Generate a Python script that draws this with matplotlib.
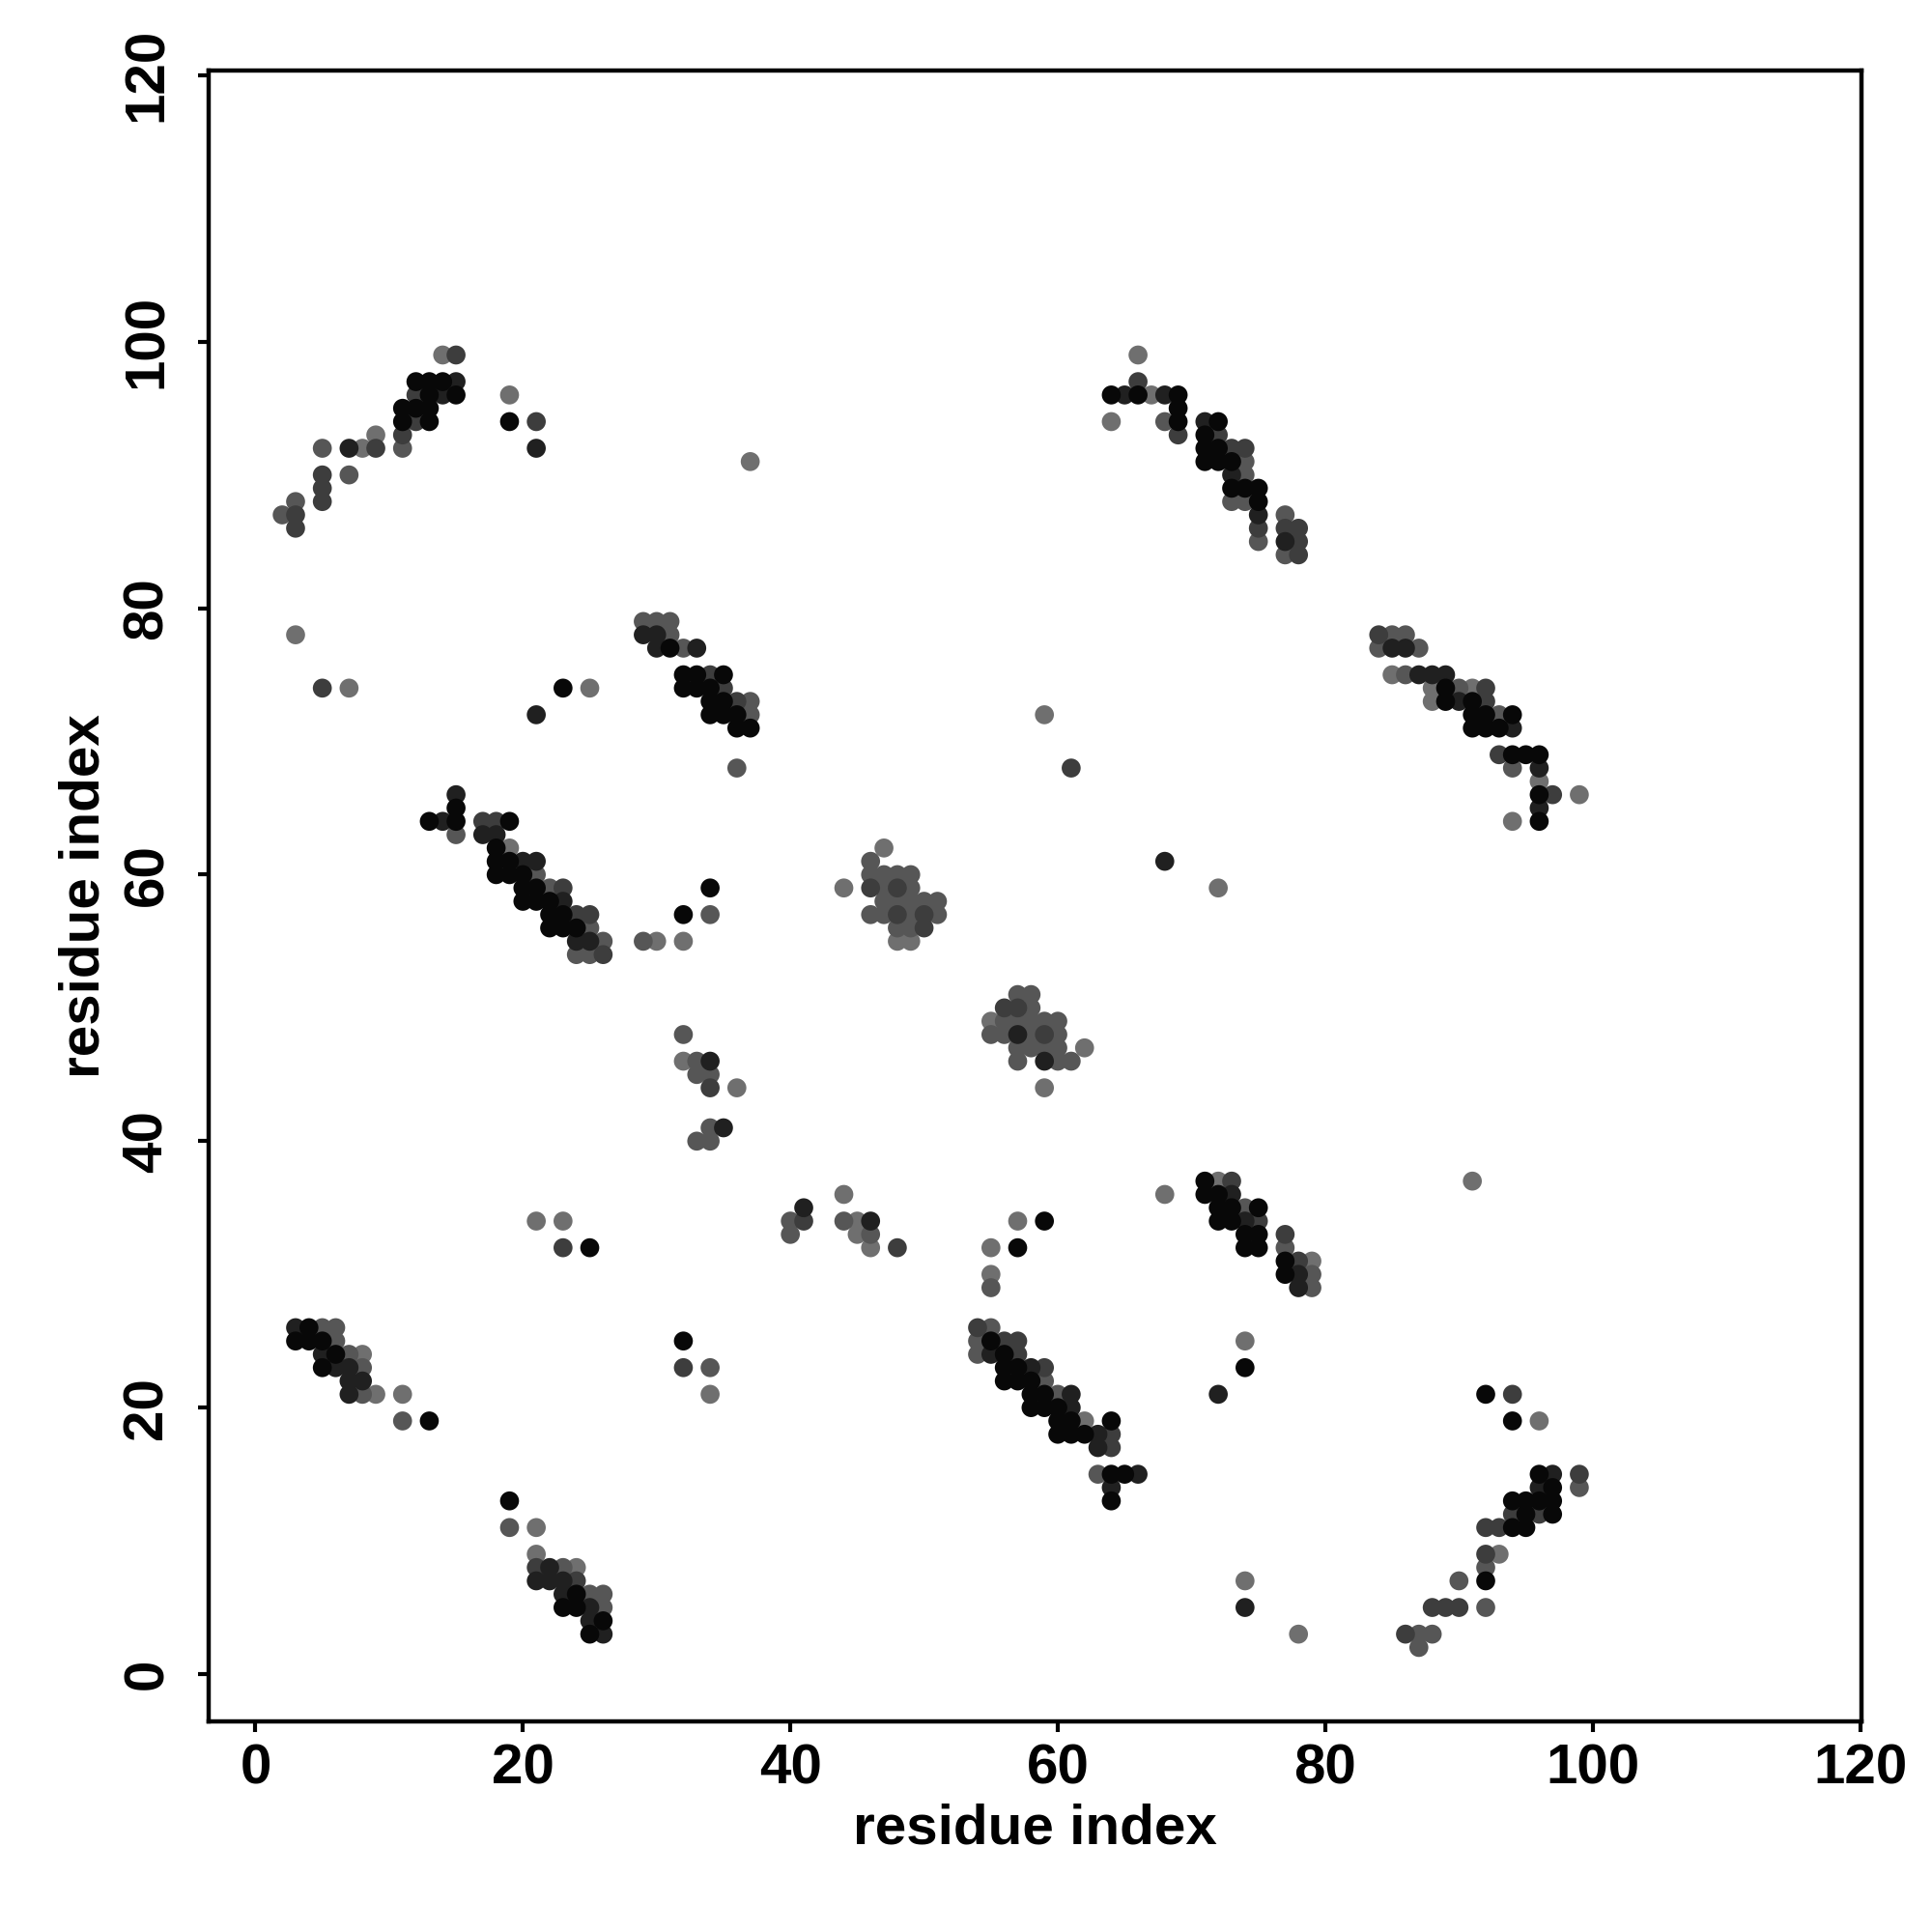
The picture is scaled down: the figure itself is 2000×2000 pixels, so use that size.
import matplotlib
matplotlib.use("Agg")
import matplotlib.pyplot as plt

plt.rcParams['font.family'] = ['Liberation Sans', 'DejaVu Sans']
plt.rcParams['font.weight'] = 'bold'

# contacts: (i, j, shade level 0=black .. 4=light grey)
contacts = [
    # top-left arc
    (14,99,4),(15,99,2),(12,97,0),(13,97,0),(14,97,0),(15,97,1),
    (12,96,2),(13,96,0),(14,96,1),(15,96,0),(11,95,0),(12,95,0),(13,95,0),
    (11,94,0),(12,94,2),(13,94,0),(11,93,2),(9,93,4),
    (5,92,3),(7,92,1),(8,92,4),(9,92,2),(11,92,3),(5,90,2),(7,90,3),(5,89,2),
    (5,88,2),(3,88,3),(2,87,3),(3,87,2),(3,86,2),
    (19,96,4),(19,94,0),(21,94,2),(21,92,1),(3,78,4),
    (5,74,2),(7,74,4),(23,74,0),(25,74,4),(21,72,1),(37,91,4),
    # 29-37 / 71-79
    (29,79,3),(30,79,3),(31,79,3),(29,78,1),(30,78,1),(31,78,3),
    (30,77,1),(31,77,0),(32,77,3),(33,77,1),
    (32,75,0),(33,75,0),(34,75,2),(35,75,0),(32,74,0),(33,74,0),(34,74,0),(35,74,2),
    (34,73,0),(35,73,0),(36,73,2),(37,73,3),(34,72,0),(35,72,0),(36,72,0),(37,72,3),
    (36,71,0),(37,71,0),(36,68,3),(59,72,4),(61,68,2),
    # top-right arc
    (66,99,4),(66,97,2),(64,96,0),(65,96,1),(66,96,0),(67,96,4),(68,96,1),(69,96,0),
    (64,94,4),(69,95,0),(68,94,3),(69,94,0),(71,94,1),(72,94,0),
    (69,93,2),(71,93,0),(72,93,2),(71,92,0),(72,92,0),(73,92,2),(74,92,2),
    (71,91,0),(72,91,0),(73,91,0),(74,91,3),(73,90,1),(74,90,3),
    (73,89,0),(74,89,0),(75,89,0),(73,88,3),(74,88,3),(75,88,0),
    (75,87,1),(75,86,2),(75,85,3),(77,87,3),(77,86,2),(78,86,2),(77,85,1),(78,85,2),
    (77,84,3),(78,84,2),
    # right arc 84-99 / 64-78
    (84,78,2),(85,78,3),(86,78,3),(84,77,3),(85,77,1),(86,77,1),(87,77,3),
    (85,75,4),(86,75,3),(87,75,1),(88,75,1),(89,75,1),
    (88,74,4),(89,74,0),(90,74,3),(91,74,4),(92,74,2),
    (88,73,4),(89,73,0),(90,73,1),(91,73,0),(92,73,2),
    (91,72,0),(92,72,0),(93,72,3),(94,72,0),(91,71,0),(92,71,0),(93,71,0),(94,71,1),
    (93,69,2),(94,69,0),(95,69,0),(96,69,0),(94,68,3),(96,68,1),
    (96,67,4),(96,66,0),(97,66,2),(99,66,4),(96,65,1),(94,64,4),(96,64,0),
    # middle-left arc 13-26 / 54-66
    (15,66,1),(15,65,0),(13,64,0),(14,64,1),(15,64,0),(17,64,2),(18,64,2),(19,64,0),
    (15,63,3),(17,63,1),(18,63,1),(18,62,0),(19,62,4),
    (18,61,0),(19,61,0),(20,61,1),(21,61,1),(18,60,0),(19,60,0),(20,60,0),(21,60,3),
    (20,59,0),(21,59,0),(22,59,3),(23,59,2),(20,58,0),(21,58,0),(22,58,0),(23,58,1),
    (22,57,0),(23,57,0),(24,57,2),(25,57,2),(22,56,0),(23,56,0),(24,56,0),(25,56,3),
    (24,55,1),(25,55,1),(26,55,3),(24,54,3),(25,54,3),(26,54,2),
    (29,55,3),(30,55,4),(32,55,4),(32,57,0),(34,57,3),(34,59,0),
    # central cluster 1
    (47,62,4),(46,61,3),(46,60,3),(47,60,3),(48,60,3),(49,60,3),
    (44,59,4),(46,59,2),(47,59,3),(48,59,2),(49,59,3),
    (47,58,3),(48,58,3),(49,58,3),(50,58,3),(51,58,3),
    (46,57,3),(47,57,3),(48,57,2),(49,57,3),(50,57,2),(51,57,3),
    (48,56,3),(49,56,3),(50,56,2),(48,55,4),(49,55,4),
    # central cluster 2
    (57,51,3),(58,51,3),(56,50,2),(57,50,2),(58,50,3),
    (55,49,4),(56,49,3),(57,49,3),(58,49,3),(59,49,3),(60,49,3),
    (55,48,3),(56,48,3),(57,48,1),(58,48,3),(59,48,2),(60,48,3),
    (57,47,3),(58,47,3),(59,47,3),(60,47,3),(62,47,4),
    (57,46,3),(59,46,1),(60,46,3),(61,46,3),(59,44,4),
    # small groups
    (32,48,3),(32,46,4),(33,46,3),(34,46,1),(33,45,3),(34,45,3),(34,44,2),(36,44,4),
    (34,41,3),(35,41,1),(33,40,3),(34,40,3),
    (21,34,4),(23,34,4),(23,32,2),(25,32,0),
    (40,34,3),(41,34,2),(41,35,1),(40,33,3),(44,36,4),(44,34,3),(45,34,4),(46,34,1),
    (45,33,4),(46,33,3),(46,32,4),(48,32,2),
    (57,34,4),(59,34,0),(55,32,4),(57,32,0),(55,30,4),(55,29,3),
    # lower-right cluster 71-79 / 29-37
    (68,36,4),(91,37,4),(71,37,0),(72,37,4),(73,37,2),(71,36,0),(72,36,0),(73,36,1),
    (72,35,0),(73,35,0),(74,35,3),(75,35,0),(72,34,0),(73,34,0),(74,34,1),(75,34,2),
    (74,33,0),(75,33,0),(77,33,2),(74,32,0),(75,32,0),(77,32,3),
    (77,31,0),(78,31,2),(79,31,4),(77,30,0),(78,30,1),(79,30,3),(78,29,1),(79,29,3),
    # lower-left
    (3,26,1),(4,26,0),(5,26,3),(6,26,3),(3,25,0),(4,25,0),(5,25,0),(6,25,3),
    (5,24,1),(6,24,0),(7,24,3),(8,24,4),(5,23,0),(6,23,1),(7,23,1),(8,23,3),
    (7,22,1),(8,22,1),(7,21,1),(8,21,3),(9,21,4),(11,21,4),(11,19,3),(13,19,0),
    (32,25,0),(32,23,2),(34,23,3),(34,21,4),
    # bottom-left arc
    (19,13,0),(19,11,3),(21,11,4),(21,9,4),
    (21,8,2),(22,8,1),(23,8,3),(24,8,4),(21,7,1),(22,7,1),(23,7,1),(24,7,2),
    (23,6,1),(24,6,0),(25,6,3),(26,6,3),(23,5,0),(24,5,0),(25,5,1),(26,5,3),
    (25,4,1),(26,4,0),(25,3,0),(26,3,1),
    # middle-bottom arc
    (54,26,2),(55,26,3),(54,25,3),(55,25,0),(56,25,2),(57,25,2),
    (54,24,3),(55,24,1),(56,24,0),(57,24,2),(56,23,0),(57,23,0),(58,23,1),(59,23,2),
    (56,22,0),(57,22,0),(58,22,0),(59,22,3),(58,21,0),(59,21,0),(60,21,3),(61,21,1),
    (58,20,0),(59,20,0),(60,20,0),(61,20,1),(60,19,0),(61,19,0),(62,19,4),(64,19,0),
    (60,18,0),(61,18,0),(62,18,0),(63,18,1),(64,18,2),(63,17,1),(64,17,2),
    (63,15,3),(64,15,0),(65,15,0),(66,15,1),(64,14,1),(64,13,0),
    (74,25,4),(74,23,0),(72,21,1),(92,21,0),(94,21,2),(94,19,0),(96,19,4),
    (68,61,1),(72,59,4),
    # bottom-right arc
    (96,15,0),(97,15,1),(99,15,2),(96,14,1),(97,14,0),(99,14,3),
    (94,13,0),(95,13,0),(96,13,0),(97,13,0),(94,12,2),(95,12,0),(96,12,2),(97,12,0),
    (92,11,2),(93,11,2),(94,11,0),(95,11,0),
    (92,9,2),(93,9,4),(92,8,3),(90,7,3),(92,7,0),
    (88,5,2),(89,5,2),(90,5,2),(92,5,3),(86,3,2),(87,3,3),(88,3,3),(87,2,3),
    (78,3,4),(74,7,4),(74,5,1),
]

residue_i = [c[0] for c in contacts]
residue_j = [c[1] for c in contacts]
shade = [c[2] for c in contacts]
shade_colors = ['#080808', '#202020', '#3d3d3d', '#565656', '#6f6f6f']

ticks = [0, 20, 40, 60, 80, 100, 120]

fig = plt.figure(figsize=(10, 10), dpi=200)
ax = fig.add_axes([0.108, 0.109, 0.8555, 0.8545])

# draw lighter first, darker on top
order = sorted(range(len(contacts)), key=lambda k: -shade[k])
ax.scatter([residue_i[k] for k in order], [residue_j[k] for k in order],
           c=[shade_colors[shade[k]] for k in order], s=50, linewidths=0, zorder=3)

ax.set_xlim(-3.5, 120.1)
ax.set_ylim(-3.55, 120.35)
ax.set_xticks(ticks)
ax.set_yticks(ticks)
ax.set_xticklabels([str(t) for t in ticks], fontsize=21, fontweight='bold')
ax.set_yticklabels([str(t) for t in ticks], fontsize=21, fontweight='bold',
                   rotation=90, va='center')
ax.tick_params(axis='both', direction='out', length=4, width=1.5, color='black')
ax.tick_params(axis='x', pad=4)
ax.tick_params(axis='y', pad=9)
for sp in ax.spines.values():
    sp.set_linewidth(1.6)

ax.set_xlabel('residue index', fontsize=21, fontweight='bold', labelpad=3)
ax.set_ylabel('residue index', fontsize=21, fontweight='bold', labelpad=4)

fig.savefig('out.png', dpi=200, facecolor='white')
